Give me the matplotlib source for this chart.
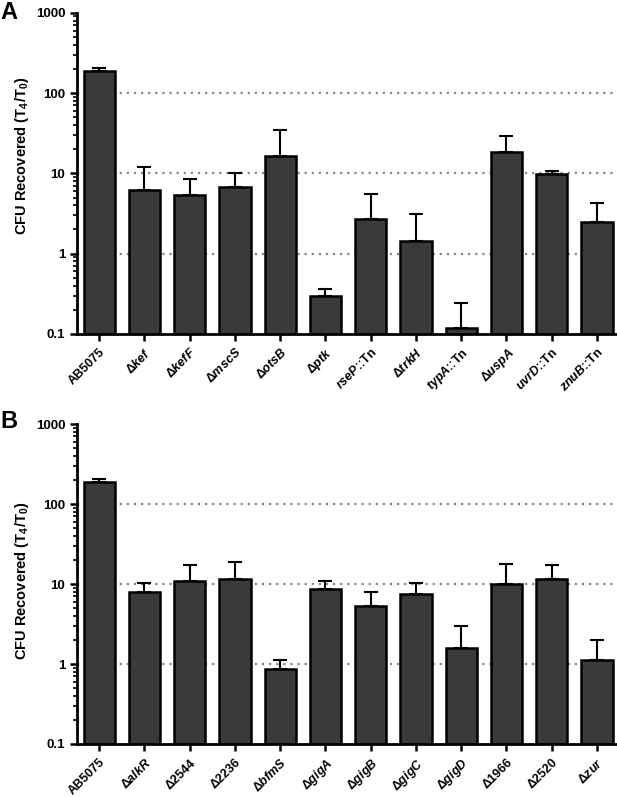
import numpy as np
import matplotlib
matplotlib.use('Agg')
import matplotlib.pyplot as plt
from matplotlib.ticker import LogLocator, FixedFormatter, FixedLocator, NullFormatter

plt.rcParams['font.family'] = 'Liberation Sans'
plt.rcParams['font.weight'] = 'bold'
plt.rcParams['mathtext.fontset'] = 'custom'
plt.rcParams['mathtext.rm'] = 'Liberation Sans:bold'
plt.rcParams['mathtext.it'] = 'Liberation Sans:italic:bold'
plt.rcParams['mathtext.bf'] = 'Liberation Sans:bold'

# panel A
labels_a = ['AB5075', r'$\Delta\mathit{kef}$', r'$\Delta\mathit{kefF}$', r'$\Delta\mathit{mscS}$',
            r'$\Delta\mathit{otsB}$', r'$\Delta\mathit{ptk}$', r'$\mathit{rseP}$::Tn', r'$\Delta\mathit{trkH}$',
            r'$\mathit{typA}$::Tn', r'$\Delta\mathit{uspA}$', r'$\mathit{uvrD}$::Tn', r'$\mathit{znuB}$::Tn']
mean_a = [190, 6.2, 5.3, 6.7, 16.6, 0.30, 2.68, 1.44, 0.12, 18.3, 9.8, 2.48]
upper_a = [205, 12.1, 8.5, 10.0, 34.7, 0.36, 5.5, 3.09, 0.24, 29.4, 10.8, 4.24]

# panel B
labels_b = ['AB5075', r'$\Delta\mathit{alkR}$', r'$\Delta$2544', r'$\Delta$2236', r'$\Delta\mathit{bfmS}$',
            r'$\Delta\mathit{gigA}$', r'$\Delta\mathit{gigB}$', r'$\Delta\mathit{gigC}$', r'$\Delta\mathit{gigD}$',
            r'$\Delta$1966', r'$\Delta$2520', r'$\Delta\mathit{zur}$']
mean_b = [188, 7.94, 10.8, 11.7, 0.874, 8.74, 5.26, 7.57, 1.57, 10.0, 11.7, 1.11]
upper_b = [203, 10.2, 17.4, 18.8, 1.11, 10.8, 8.0, 10.4, 2.99, 17.8, 17.1, 2.0]


def draw_panel(ax, labels, mean, upper, label_y):
    x = np.arange(len(labels))
    mean = np.array(mean)
    err = np.array(upper) - mean
    for y in [1, 10, 100]:
        ax.axhline(y, color='#888888', linestyle=(0, (1, 2.2)), linewidth=1.6, zorder=0)
    ax.bar(x, mean, width=0.69, color='#3a3a3a', edgecolor='black', linewidth=1.8, zorder=2)
    ax.errorbar(x, mean, yerr=[np.zeros_like(err), err], fmt='none', ecolor='black',
                elinewidth=1.5, capsize=5, capthick=1.5, zorder=1)
    ax.set_yscale('log')
    ax.set_ylim(0.1, 1000)
    ax.set_xlim(-0.49, 11.42)
    ax.yaxis.set_major_locator(FixedLocator([0.1, 1, 10, 100, 1000]))
    ax.yaxis.set_major_formatter(FixedFormatter(['0.1', '1', '10', '100', '1000']))
    ax.yaxis.set_minor_locator(LogLocator(base=10, subs=np.arange(2, 10)))
    ax.yaxis.set_minor_formatter(NullFormatter())
    ax.set_xticks(x)
    ax.set_xticklabels(labels, rotation=45, ha='right', rotation_mode='anchor', fontsize=9)
    for s in ['top', 'right']:
        ax.spines[s].set_visible(False)
    for s in ['left', 'bottom']:
        ax.spines[s].set_linewidth(2)
    ax.tick_params(axis='both', which='major', width=1.8, length=5, labelsize=9.5)
    ax.tick_params(axis='x', labelsize=9)
    ax.tick_params(axis='y', which='minor', width=1.2, length=3)
    ax.set_ylabel('CFU Recovered (T$_4$/T$_0$)', fontsize=10.5, fontweight='bold')
    ax.yaxis.set_label_coords(-0.085, label_y)


fig = plt.figure(figsize=(6.17, 7.97), dpi=100)
ax_a = fig.add_axes([0.1248, 0.581, 0.8735, 0.403])
ax_b = fig.add_axes([0.1248, 0.0665, 0.8735, 0.4015])
draw_panel(ax_a, labels_a, mean_a, upper_a, 0.555)
draw_panel(ax_b, labels_b, mean_b, upper_b, 0.51)
fig.text(0.0, 0.999, 'A', fontsize=17, fontweight='bold', ha='left', va='top')
fig.text(0.0, 0.486, 'B', fontsize=17, fontweight='bold', ha='left', va='top')
fig.savefig('out.png', dpi=100)
